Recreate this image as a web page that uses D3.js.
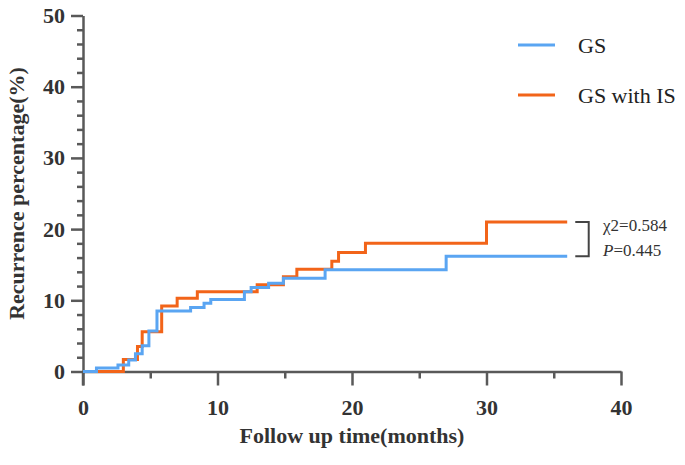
<!DOCTYPE html>
<html>
<head>
<meta charset="utf-8">
<script src="https://cdn.jsdelivr.net/npm/d3@7"></script>
<style>
  body { margin: 0; background: #fff; }
  svg { display: block; }
  .axis path, .axis line { stroke: #595959; stroke-width: 2.5; }
  .axis text { font-family: "Liberation Serif", serif; font-weight: bold; font-size: 22px; fill: #333; }
</style>
</head>
<body>
<div id="chart"></div>
<script>
// series names
const seriesNames = ["GS", "GS with IS"];

// step points [month, recurrence %]
const gsTime  = [0, 1.0, 2.6, 3.4, 3.9, 4.4, 4.9, 5.5, 8.0, 9.0, 9.5, 12.0, 12.5, 13.8, 14.9, 18.0, 27.0, 36];
const gsValue = [0, 0.5, 0.9, 1.6, 2.5, 3.6, 5.7, 8.5, 9.0, 9.6, 10.1, 11.2, 11.8, 12.4, 13.1, 14.3, 16.2, 16.2];

const isTime  = [0, 3.0, 4.05, 4.4, 5.85, 7.0, 8.5, 12.95, 14.9, 15.9, 18.5, 19.0, 21.0, 30.0, 36];
const isValue = [0, 1.7, 3.5, 5.6, 9.2, 10.3, 11.2, 12.2, 13.3, 14.35, 15.5, 16.7, 18.0, 21.0, 21.0];

// ticks
const xMajor = [0, 10, 20, 30, 40];
const xMinor = [5, 15, 25, 35];
const yMajor = [0, 10, 20, 30, 40, 50];
const yMinor = [2, 4, 6, 8, 12, 14, 16, 18, 22, 24, 26, 28, 32, 34, 36, 38, 42, 44, 46, 48];

const stats = ["χ2=0.584", "=0.445"];

let width = 685;
let height = 465;
let colors = ["#5aa5f2", "#f26419"];

let svg = d3.select("#chart")
    .append("svg")
    .attr("width", width)
    .attr("height", height);

let x = d3.scaleLinear().domain([0, 40]).range([83, 621]);
let y = d3.scaleLinear().domain([0, 50]).range([371.5, 15.5]);

// x axis
svg.append("g")
    .attr("class", "axis")
    .attr("transform", `translate(0, ${y(0)})`)
    .call(d3.axisBottom(x).tickValues(xMajor).tickSize(14).tickSizeOuter(0).tickPadding(14));
svg.append("g")
    .attr("class", "axis")
    .attr("transform", `translate(0, ${y(0)})`)
    .call(d3.axisBottom(x).tickValues(xMinor).tickSize(7).tickSizeOuter(0).tickFormat(""))
    .select(".domain").remove();

// y axis
svg.append("g")
    .attr("class", "axis")
    .attr("transform", `translate(${x(0)}, 0)`)
    .call(d3.axisLeft(y).tickValues(yMajor).tickSize(12).tickSizeOuter(0).tickPadding(6));
svg.append("g")
    .attr("class", "axis")
    .attr("transform", `translate(${x(0)}, 0)`)
    .call(d3.axisLeft(y).tickValues(yMinor).tickSize(6).tickSizeOuter(0).tickFormat(""))
    .select(".domain").remove();
// y axis line runs a little below zero
svg.append("line")
    .attr("x1", x(0)).attr("x2", x(0))
    .attr("y1", y(0)).attr("y2", y(0) + 14)
    .attr("stroke", "#595959")
    .attr("stroke-width", 2.5);

// axis titles
svg.append("text")
    .attr("x", (x(0) + x(40)) / 2)
    .attr("y", 443)
    .attr("text-anchor", "middle")
    .attr("font-family", "Liberation Serif, serif")
    .attr("font-weight", "bold")
    .attr("font-size", 22)
    .attr("fill", "#333")
    .text("Follow up time(months)");
svg.append("text")
    .attr("transform", `translate(24, ${(y(0) + y(50)) / 2}) rotate(-90)`)
    .attr("text-anchor", "middle")
    .attr("font-family", "Liberation Serif, serif")
    .attr("font-weight", "bold")
    .attr("font-size", 22)
    .attr("fill", "#333")
    .text("Recurrence percentage(%)");

// step curves
let line = d3.line()
    .x(d => x(d[0]))
    .y(d => y(d[1]))
    .curve(d3.curveStepAfter);

let curves = [
    d3.zip(gsTime, gsValue),
    d3.zip(isTime, isValue)
];

// orange first, blue on top
[1, 0].forEach(i => {
    svg.append("path")
        .datum(curves[i])
        .attr("d", line)
        .attr("fill", "none")
        .attr("stroke", colors[i])
        .attr("stroke-width", 3);
});

// legend
let legend = svg.selectAll(".legend")
    .data(seriesNames)
    .enter()
    .append("g")
    .attr("class", "legend")
    .attr("transform", (d, i) => `translate(518, ${45 + i * 50})`);
legend.append("line")
    .attr("x1", 0).attr("x2", 37)
    .attr("stroke", (d, i) => colors[i])
    .attr("stroke-width", 3);
legend.append("text")
    .attr("x", 60)
    .attr("y", 8)
    .attr("font-family", "Liberation Serif, serif")
    .attr("font-size", 22)
    .attr("fill", "#222")
    .text(d => d);

// bracket + test statistics
let lastGs = gsValue[gsValue.length - 1];
let lastIs = isValue[isValue.length - 1];
svg.append("path")
    .attr("d", `M${x(36.6)},${y(lastIs)} H${x(37.6)} V${y(lastGs)} H${x(36.6)}`)
    .attr("fill", "none")
    .attr("stroke", "#444")
    .attr("stroke-width", 2);
svg.append("text")
    .attr("x", 603)
    .attr("y", y(lastIs) + 9)
    .attr("font-family", "Liberation Serif, serif")
    .attr("font-size", 17)
    .attr("fill", "#333")
    .text(stats[0]);
let pText = svg.append("text")
    .attr("x", 603)
    .attr("y", y(lastGs) + 0)
    .attr("font-family", "Liberation Serif, serif")
    .attr("font-size", 17)
    .attr("fill", "#333");
pText.append("tspan").attr("font-style", "italic").text("P");
pText.append("tspan").text(stats[1]);
</script>
</body>
</html>
